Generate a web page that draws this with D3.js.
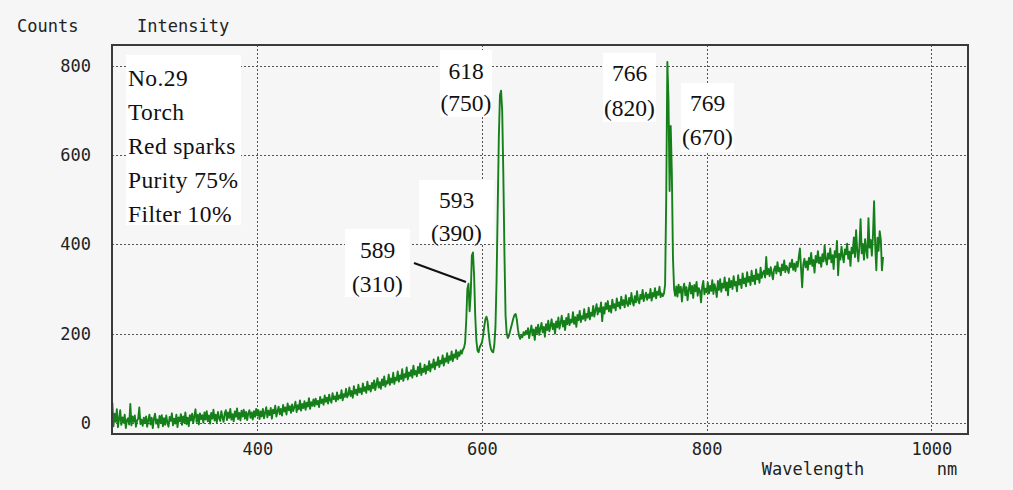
<!DOCTYPE html>
<html>
<head>
<meta charset="utf-8">
<script src="https://cdn.jsdelivr.net/npm/d3@7"></script>
<style>
  html, body { margin: 0; padding: 0; background: #f6f6f6; }
  svg { display: block; }
</style>
</head>
<body>
<script>
// ---------------- DATA ----------------
const startNm = 271;           // first sample wavelength (nm), 1 nm per sample
const counts = [
  45, -8, 20, 2, 30, -10, 8, 28, -5, 12,            // 271-280
  0, 18, -12, 6, 10, -4, 42, -6, 14, 2,             // 281-290
  16, -9, 5, 9, 34, -3, 7, -7, 11, 1,               // 291-300
  14, -9, 6, 18, -4, 11, -12, 9, 20, -2,            // 301-310
  7, -11, 15, 1, 17, -8, 10, -5, 16, 0,             // 311-320
  -9, 13, 4, 21, -6, 9, -2, 18, -10, 12,            // 321-330
  3, 19, -5, 14, 0, 23, -3, 11, -8, 17,             // 331-340
  5, 20, -1, 15, 30, 2, 18, -4, 21, 8,              // 341-350
  17, 0, 23, 7, 26, 3, 16, -2, 22, 9,               // 351-360
  29, 5, 18, 1, 24, 10, 4, 26, 12, 2,               // 361-370
  21, 28, 6, 23, 11, 31, 7, 19, 3, 25,              // 371-380
  13, 32, 8, 22, 5, 27, 14, 29, 9, 24,              // 381-390
  6, 21, 28, 11, 23, 7, 26, 13, 31, 16,             // 391-400
  28, 8, 25, 14, 31, 10, 22, 35, 12, 27,            // 401-410
  17, 33, 9, 29, 21, 38, 14, 26, 36, 19,            // 411-420
  31, 16, 40, 25, 34, 18, 43, 28, 37, 22,           // 421-430
  41, 26, 35, 47, 24, 39, 30, 50, 27, 42,           // 431-440
  33, 48, 29, 45, 36, 55, 31, 46, 38, 52,           // 441-450
  37, 54, 41, 49, 35, 58, 44, 52, 40, 61,           // 451-460
  47, 56, 43, 63, 50, 45, 66, 53, 59, 48,           // 461-470
  68, 52, 61, 55, 73, 50, 64, 58, 76, 57,           // 471-480
  63, 79, 60, 71, 56, 82, 65, 74, 62, 85,           // 481-490
  68, 77, 64, 88, 71, 80, 67, 92, 74, 83,           // 491-500
  70, 89, 77, 95, 73, 86, 100, 79, 91, 76,          // 501-510
  97, 84, 104, 81, 93, 88, 108, 85, 99, 90,         // 511-520
  112, 87, 101, 95, 115, 92, 106, 98, 120, 94,      // 521-530
  109, 102, 124, 97, 113, 105, 118, 101, 128, 108,  // 531-540
  116, 104, 125, 111, 133, 107, 121, 114, 130, 110, // 541-550
  127, 118, 138, 115, 131, 124, 142, 120, 135, 129, // 551-560
  147, 125, 139, 133, 151, 128, 144, 137, 156, 134, // 561-570
  149, 141, 160, 138, 153, 146, 163, 143, 158, 150, // 571-580
  162, 155, 164, 168, 180, 230, 300, 312, 250, 290, // 581-590
  375, 382, 330, 240, 185, 162, 158, 170, 175, 180, // 591-600
  195, 215, 232, 238, 228, 200, 178, 165, 160, 158, // 601-610
  175, 215, 320, 480, 640, 735, 745, 700, 560, 380, // 611-620
  240, 200, 190, 195, 205, 215, 225, 235, 242, 244, // 621-630
  232, 210, 195, 188, 196, 192, 203, 197, 206, 199, // 631-640
  212, 190, 205, 218, 196, 209, 186, 214, 201, 220, // 641-650
  197, 211, 224, 203, 215, 193, 221, 208, 229, 205, // 651-660
  217, 232, 210, 222, 200, 227, 214, 236, 211, 224, // 661-670
  240, 216, 229, 208, 235, 221, 244, 219, 231, 225, // 671-680
  248, 222, 237, 215, 242, 230, 251, 226, 239, 233, // 681-690
  255, 229, 244, 236, 258, 232, 247, 240, 262, 238, // 691-700
  252, 266, 243, 257, 249, 270, 228, 259, 245, 268, // 701-710
  255, 273, 250, 262, 247, 276, 258, 266, 252, 279, // 711-720
  261, 270, 256, 283, 264, 275, 259, 286, 268, 262, // 721-730
  280, 266, 291, 272, 263, 284, 270, 295, 275, 268, // 731-740
  287, 278, 298, 273, 283, 292, 276, 288, 280, 300, // 741-750
  274, 291, 283, 302, 279, 294, 287, 305, 282, 290, // 751-760
  284, 290, 310, 505, 810, 725, 520, 666, 560, 370, // 761-770
  300, 285, 306, 283, 310, 292, 305, 272, 300, 312, // 771-780
  286, 304, 275, 298, 314, 290, 307, 280, 309, 295, // 781-790
  316, 285, 302, 296, 270, 305, 318, 288, 301, 293, // 791-800
  315, 290, 307, 296, 320, 289, 311, 300, 282, 318, // 801-810
  298, 322, 294, 312, 303, 326, 297, 315, 286, 324, // 811-820
  304, 318, 300, 329, 308, 316, 295, 331, 310, 321, // 821-830
  302, 335, 313, 324, 306, 338, 316, 327, 309, 341, // 831-840
  318, 330, 311, 344, 322, 333, 314, 348, 325, 336, // 841-850
  341, 326, 372, 333, 345, 329, 349, 336, 322, 344, // 851-860
  351, 335, 360, 340, 347, 331, 355, 342, 364, 338, // 861-870
  352, 345, 336, 358, 349, 366, 343, 357, 340, 361, // 871-880
  350, 372, 391, 346, 304, 355, 368, 349, 362, 343, // 881-890
  370, 356, 381, 352, 365, 337, 374, 360, 385, 358, // 891-900
  371, 350, 378, 362, 398, 366, 355, 380, 368, 391, // 901-910
  360, 376, 345, 385, 372, 408, 331, 379, 366, 395, // 911-920
  374, 360, 389, 378, 402, 368, 384, 352, 393, 380, // 921-930
  416, 372, 432, 385, 362, 398, 457, 380, 401, 366, // 931-940
  412, 388, 370, 459, 393, 410, 375, 420, 497, 398, // 941-950
  342, 415, 386, 430, 411, 342, 372                 // 951-957
];

const xTicks = [400, 600, 800, 1000];
const yTicks = [0, 200, 400, 600, 800];
const xDomain = [270.7, 1032.6];
const yDomain = [-25.4, 847.8];

const infoLines = ["No.29", "Torch", "Red sparks", "Purity 75%", "Filter 10%"];
const peakLabels = [
  ["589", "(310)"],
  ["593", "(390)"],
  ["618", "(750)"],
  ["766", "(820)"],
  ["769", "(670)"]
];
const yAxisTitle = "Counts";
const chartTitle = "Intensity";
const xAxisTitle = "Wavelength";
const xUnit = "nm";

// ---------------- LAYOUT ----------------
const W = 1013, H = 490;
const plot = { left: 112, top: 45, right: 968, bottom: 434 };
// label boxes (pixel layout) in same order as peakLabels
const labelBoxes = [
  { x: 345, y: 229, w: 65, h: 68, l1: 250, l2: 284 },
  { x: 419, y: 180, w: 75, h: 64, l1: 200, l2: 233 },
  { x: 440, y: 50,  w: 52, h: 67, l1: 71,  l2: 103 },
  { x: 603, y: 53,  w: 53, h: 69, l1: 73,  l2: 108 },
  { x: 681, y: 83,  w: 53, h: 69, l1: 103, l2: 137 }
];
const infoBox = { x: 126, y: 55, w: 115, h: 170, first: 78, step: 34, tx: 128 };

const monoFont = "'DejaVu Sans Mono', 'Liberation Mono', monospace";
const serifFont = "'Liberation Serif', 'DejaVu Serif', serif";
const textColor = "#222";
const serifSize = 23.5;

const svg = d3.select("body").append("svg")
  .attr("width", W).attr("height", H);

svg.append("rect").attr("width", W).attr("height", H).attr("fill", "#f6f6f6");

const x = d3.scaleLinear().domain(xDomain).range([plot.left, plot.right]);
const y = d3.scaleLinear().domain(yDomain).range([plot.bottom, plot.top]);

// grid
const grid = svg.append("g").attr("stroke", "#555").attr("stroke-width", 1)
  .attr("stroke-dasharray", "2,2").attr("shape-rendering", "crispEdges");
grid.selectAll("line.h").data(yTicks).join("line").attr("class", "h")
  .attr("x1", plot.left).attr("x2", plot.right)
  .attr("y1", d => Math.round(y(d)) + 0.5).attr("y2", d => Math.round(y(d)) + 0.5);
grid.selectAll("line.v").data(xTicks).join("line").attr("class", "v")
  .attr("y1", plot.top).attr("y2", plot.bottom)
  .attr("x1", d => Math.round(x(d)) + 0.5).attr("x2", d => Math.round(x(d)) + 0.5);

// axes via d3 axis (labels only, no tick lines / domain)
const yAxis = svg.append("g").attr("transform", `translate(${plot.left},0)`)
  .call(d3.axisLeft(y).tickValues(yTicks).tickFormat(d3.format("d")).tickSize(0).tickPadding(21));
const xAxis = svg.append("g").attr("transform", `translate(0,${plot.bottom})`)
  .call(d3.axisBottom(x).tickValues(xTicks).tickFormat(d3.format("d")).tickSize(0).tickPadding(9));
[yAxis, xAxis].forEach(g => {
  g.select(".domain").remove();
  g.selectAll("text").attr("font-family", monoFont).attr("font-size", 17)
    .attr("fill", textColor);
});

// spectrum line
const series = counts.map((c, i) => ({ nm: startNm + i, c }));
svg.append("path")
  .datum(series)
  .attr("fill", "none")
  .attr("stroke", "#15801a")
  .attr("stroke-width", 1.9)
  .attr("stroke-linejoin", "round")
  .attr("d", d3.line().x(d => x(d.nm)).y(d => y(d.c)));

// frame
svg.append("rect")
  .attr("x", plot.left).attr("y", plot.top)
  .attr("width", plot.right - plot.left).attr("height", plot.bottom - plot.top)
  .attr("fill", "none").attr("stroke", "#3a3a3a").attr("stroke-width", 2);

// titles
const titles = [
  { t: yAxisTitle, x: 17, y: 26, a: "start" },
  { t: chartTitle, x: 137, y: 26, a: "start" },
  { t: xAxisTitle, x: 813, y: 469, a: "middle" },
  { t: xUnit, x: 947, y: 469, a: "middle" }
];
svg.selectAll("text.title").data(titles).join("text").attr("class", "title")
  .attr("x", d => d.x).attr("y", d => d.y).attr("text-anchor", d => d.a)
  .attr("dominant-baseline", "central")
  .attr("font-family", monoFont).attr("font-size", 17).attr("fill", textColor)
  .text(d => d.t);

// info box
svg.append("rect").attr("x", infoBox.x).attr("y", infoBox.y)
  .attr("width", infoBox.w).attr("height", infoBox.h).attr("fill", "#fff");
svg.selectAll("text.info").data(infoLines).join("text").attr("class", "info")
  .attr("x", infoBox.tx).attr("y", (d, i) => infoBox.first + i * infoBox.step)
  .attr("dominant-baseline", "central")
  .attr("font-family", serifFont).attr("font-size", serifSize).attr("fill", "#111")
  .attr("letter-spacing", 0.4)
  .text(d => d);

// leader line for 589
svg.append("line").attr("x1", 414).attr("y1", 263).attr("x2", 466).attr("y2", 282)
  .attr("stroke", "#111").attr("stroke-width", 2);

// peak labels
const pl = svg.selectAll("g.peak").data(peakLabels).join("g").attr("class", "peak");
pl.append("rect")
  .attr("x", (d, i) => labelBoxes[i].x).attr("y", (d, i) => labelBoxes[i].y)
  .attr("width", (d, i) => labelBoxes[i].w).attr("height", (d, i) => labelBoxes[i].h)
  .attr("fill", "#fff");
pl.append("text")
  .attr("x", (d, i) => labelBoxes[i].x + labelBoxes[i].w / 2)
  .attr("y", (d, i) => labelBoxes[i].l1)
  .attr("text-anchor", "middle").attr("dominant-baseline", "central")
  .attr("font-family", serifFont).attr("font-size", serifSize).attr("fill", "#111")
  .text(d => d[0]);
pl.append("text")
  .attr("x", (d, i) => labelBoxes[i].x + labelBoxes[i].w / 2)
  .attr("y", (d, i) => labelBoxes[i].l2)
  .attr("text-anchor", "middle").attr("dominant-baseline", "central")
  .attr("font-family", serifFont).attr("font-size", serifSize).attr("fill", "#111")
  .text(d => d[1]);
</script>
</body>
</html>
